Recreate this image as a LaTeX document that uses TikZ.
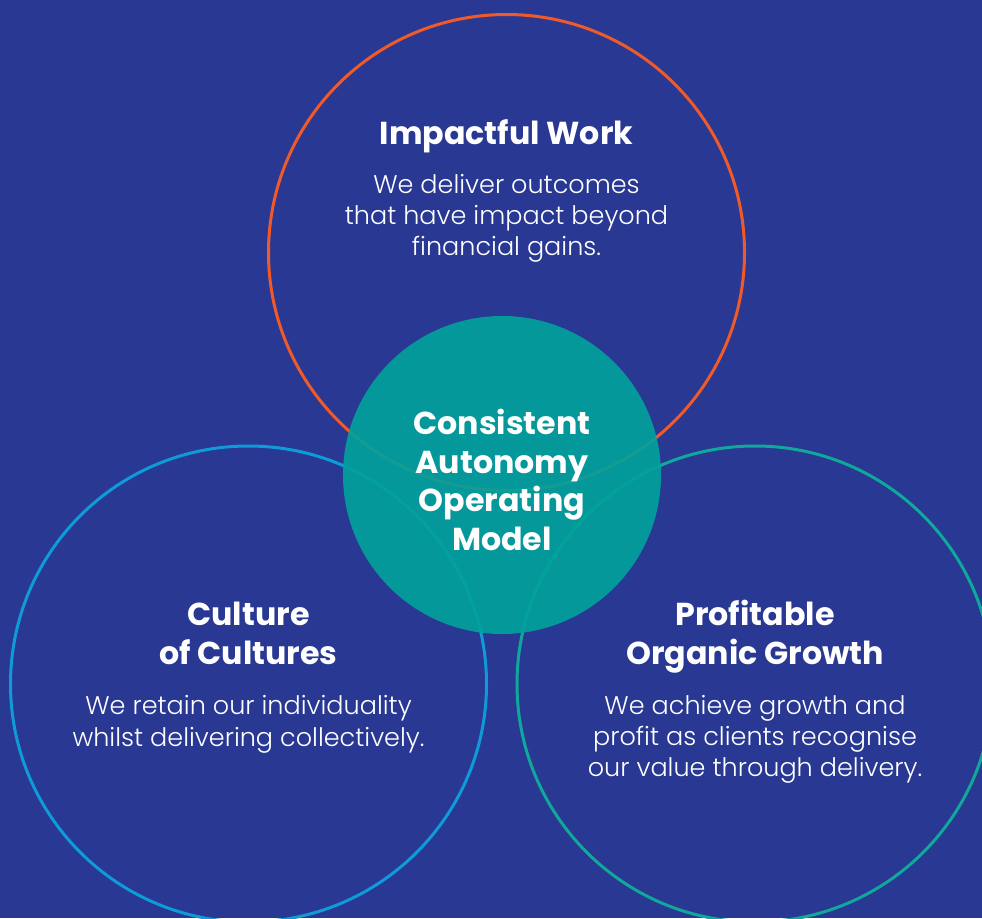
\documentclass[tikz,border=0pt]{standalone}
\usepackage{fontspec}
\setmainfont{Poppins}[BoldFont={* Bold}]
\newfontfamily\bodyfamily{Poppins Light}
\definecolor{bgblue}{HTML}{283893}
\definecolor{ringorange}{HTML}{F05A28}
\definecolor{ringblue}{HTML}{0E9BD8}
\definecolor{ringteal}{HTML}{0FA89B}
\definecolor{coreteal}{HTML}{02A19C}
\tikzset{
  ring/.style={line width=3pt},
  headtext/.style={text=white, align=center, inner sep=0pt, anchor=base,
    font=\fontsize{31.7}{38.8}\selectfont\bfseries},
  bodytext/.style={text=white, align=center, inner sep=0pt, anchor=base,
    font=\fontsize{25.5}{31.2}\selectfont\bodyfamily},
}
\begin{document}
\begin{tikzpicture}[x=1pt,y=-1pt]
  \useasboundingbox (0,0) rectangle (982,918);
  \clip (0,0) rectangle (982,918);
  \fill[bgblue] (0,0) rectangle (982,918);

  % three outer rings
  \draw[ring, ringorange] (506.5,252.5) circle[radius=238];
  \draw[ring, ringblue]   (248.5,684)   circle[radius=238];
  \draw[ring, ringteal]   (755,684)     circle[radius=238];

  % central disc, slightly see-through so the rings show faintly
  \fill[coreteal, fill opacity=0.92] (502,475) circle[radius=159];

  % labels (anchored on the baseline of their last line)
  \node[headtext] (impactTitle) at (506.5,144) {Impactful Work};
  \node[bodytext] (impactBody)  at (506.5,255.5) {We deliver outcomes\\that have impact beyond\\financial gains.};

  \node[headtext] (coreTitle) at (502,550.7) {Consistent\\Autonomy\\Operating\\Model};

  \node[headtext] (cultureTitle) at (248.5,664) {Culture\\of Cultures};
  \node[bodytext] (cultureBody)  at (248.5,746) {We retain our individuality\\whilst delivering collectively.};

  \node[headtext] (growthTitle) at (755,664) {Profitable\\Organic Growth};
  \node[bodytext] (growthBody)  at (755,776.7) {We achieve growth and\\profit as clients recognise\\our value through delivery.};
\end{tikzpicture}
\end{document}
